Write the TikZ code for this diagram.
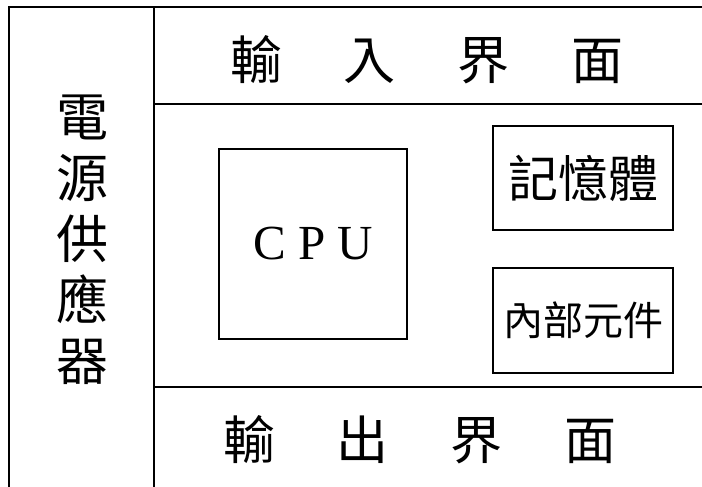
\documentclass[tikz,border=0pt]{standalone}
\usepackage{fontspec}
\setmainfont{Liberation Serif}
\newfontfamily\cjk{Noto Sans CJK TC}
\tikzset{
  unit/.style={draw,line width=1.5pt,inner sep=0pt},
  label/.style={inner sep=0pt,font=\cjk\fontsize{52}{61}\selectfont}
}
\begin{document}
\begin{tikzpicture}[x=1pt,y=-1pt,line width=1.5pt]
  \useasboundingbox (0,0) rectangle (702,487);
  \clip (0,0) rectangle (702,487);
  % frame
  \draw (9,500)--(9,7)--(715,7);
  \draw (154,7)--(154,500);
  \draw (154,104)--(715,104);
  \draw (154,387)--(715,387);
  % labels
  \node[label] (in) at(427,60){輸\hspace{62pt}入\hspace{62pt}界\hspace{62pt}面};
  \node[label] (out) at(420,440){輸\hspace{62pt}出\hspace{62pt}界\hspace{62pt}面};
  \node[label,align=center] (power) at(82,240){電\\源\\供\\應\\器};
  % units
  \node[unit,minimum width=188,minimum height=190,font=\fontsize{49}{49}\selectfont] (cpu) at(313,244){C P U};
  \node[unit,minimum width=180,minimum height=104,font=\cjk\fontsize{50}{50}\selectfont] (mem) at(583,178){記憶體};
  \node[unit,minimum width=180,minimum height=105,font=\cjk\fontsize{40}{40}\selectfont] (part) at(583,320.5){內部元件};
\end{tikzpicture}
\end{document}
